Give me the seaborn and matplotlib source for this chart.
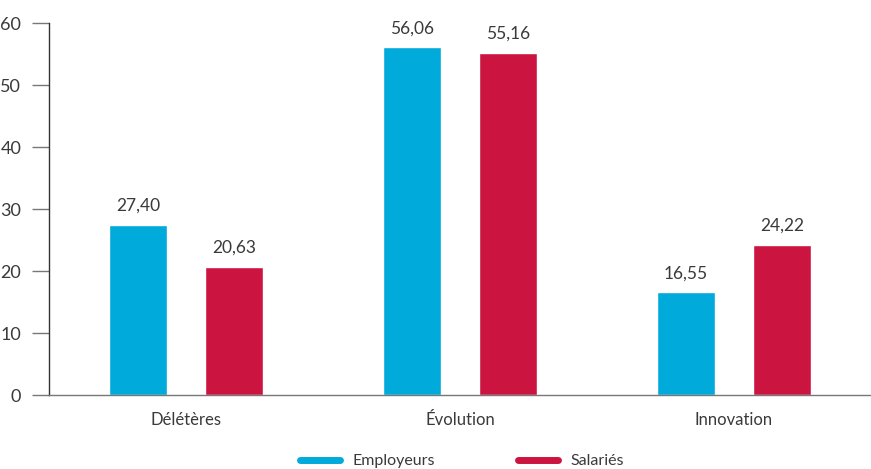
import pandas as pd
import matplotlib.pyplot as plt
import seaborn as sns
from matplotlib.lines import Line2D

categories = ['Délétères', 'Évolution', 'Innovation']
employeurs = [27.40, 56.06, 16.55]
salaries = [20.63, 55.16, 24.22]
series = ['Employeurs', 'Salariés']
colors = ['#00aadb', '#cc1440']

df = pd.DataFrame({
    'categorie': categories * 2,
    'valeur': employeurs + salaries,
    'serie': [series[0]] * 3 + [series[1]] * 3,
})

sns.set_style('white')
plt.rcParams['font.family'] = ['Lato', 'DejaVu Sans']
text_color = '#3a3a3a'

fig = plt.figure(figsize=(8.71, 4.69), dpi=100)
ax = fig.add_axes([49 / 871, 1 - 395 / 469, 822 / 871, (395 - 23) / 469])

sns.barplot(data=df, x='categorie', y='valeur', hue='serie', palette=colors,
            width=0.70, gap=0.40, ax=ax, legend=False, saturation=1)

for cont in ax.containers:
    ax.bar_label(cont, labels=[f'{v:.2f}'.replace('.', ',') for v in cont.datavalues],
                 padding=8, fontsize=12.5, color=text_color)

ax.set_xlim(-0.5, 2.5)
ax.set_ylim(0, 60)
ax.set_yticks(range(0, 61, 10))
ax.set_xlabel('')
ax.set_ylabel('')
ax.set_xticks([0.5, 1.5], minor=True)
ax.tick_params(axis='x', which='major', length=0, pad=12, labelsize=12, labelcolor=text_color)
ax.tick_params(axis='x', which='minor', length=10, width=1, color='#333333', direction='out')
ax.tick_params(axis='y', length=12, width=1, color='#777777', pad=8, labelsize=13, labelcolor=text_color)
ax.tick_params(axis='both', bottom=True, left=True)
for s in ['top', 'right']:
    ax.spines[s].set_visible(False)
ax.spines['left'].set_color('#333333')
ax.spines['bottom'].set_color('#777777')
ax.spines['left'].set_linewidth(1)
ax.spines['bottom'].set_linewidth(1)

handles = [Line2D([0], [0], color=c, lw=5, solid_capstyle='round') for c in colors]
fig.legend(handles, series, loc='center', bbox_to_anchor=(462 / 871, 1 - 461 / 469),
           ncol=2, frameon=False, fontsize=11.5, handlelength=2.5, columnspacing=5.2,
           labelcolor=text_color, handletextpad=0.8)

fig.savefig('out.png', dpi=100)
